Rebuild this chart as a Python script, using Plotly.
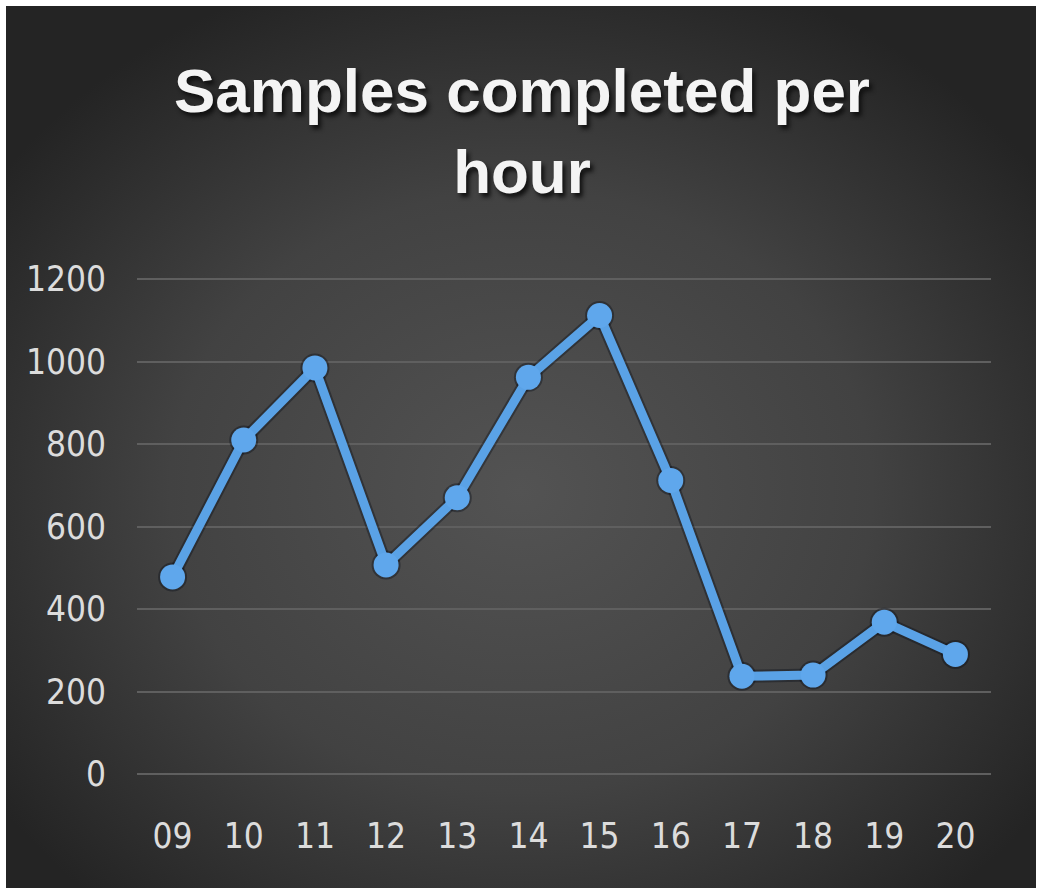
import base64
import plotly.graph_objects as go

hours = ["09", "10", "11", "12", "13", "14", "15", "16", "17", "18", "19", "20"]
samples = [478, 810, 985, 507, 670, 962, 1112, 712, 237, 240, 368, 290]
y_ticks = [0, 200, 400, 600, 800, 1000, 1200]
title_text = "Samples completed per<br>hour"

W, H = 1037, 891
ML, MR, MT, MB = 137, 46, 278, 117
PW, PH = W - ML - MR, H - MT - MB

svg = f'''<svg xmlns="http://www.w3.org/2000/svg" width="{W}" height="{H}" viewBox="0 0 {W} {H}">
<defs><radialGradient id="g" cx="0.5" cy="0.55" r="0.62" fx="0.5" fy="0.55">
<stop offset="0" stop-color="#535353"/><stop offset="0.55" stop-color="#424242"/><stop offset="1" stop-color="#242424"/>
</radialGradient></defs>
<rect x="6" y="6" width="{W-7}" height="{H-9}" fill="url(#g)"/></svg>'''
src = "data:image/svg+xml;base64," + base64.b64encode(svg.encode()).decode()

fig = go.Figure()
# soft shadow under the line
fig.add_trace(go.Scatter(
    x=hours, y=samples, mode="lines+markers",
    line=dict(color="rgba(10,15,25,0.4)", width=13),
    marker=dict(size=29, color="rgba(10,15,25,0.4)"),
    hoverinfo="skip", showlegend=False,
))
fig.add_trace(go.Scatter(
    x=hours, y=samples, mode="lines+markers",
    line=dict(color="#5aa2e6", width=9),
    marker=dict(size=25, color="#5fa7ec"),
    showlegend=False,
))

fig.update_layout(
    width=W, height=H,
    margin=dict(l=ML, r=MR, t=MT, b=MB),
    paper_bgcolor="white",
    plot_bgcolor="rgba(0,0,0,0)",
    images=[dict(source=src, xref="paper", yref="paper",
                 x=-ML / PW, y=1 + MT / PH, sizex=W / PW, sizey=H / PH,
                 xanchor="left", yanchor="top", sizing="stretch", layer="below")],
    title=dict(text=title_text, x=522 / W, xref="container", xanchor="center",
               y=1 - 112 / H, yref="container", yanchor="top",
               font=dict(family="Liberation Sans, Arial", size=62, color="#f4f4f4",
                         weight="bold", shadow="3px 4px 4px #111111")),
    font=dict(family="Liberation Sans Narrow, DejaVu Sans Condensed, Arial Narrow, sans-serif",
              color="#d9d9d9"),
)
fig.update_xaxes(type="category", range=[-0.5, 11.5], showgrid=False, showline=False,
                 zeroline=False, ticks="", ticklabelstandoff=38,
                 tickfont=dict(size=35, color="#dcdcdc"))
fig.update_yaxes(range=[0, 1203], tickvals=y_ticks, showgrid=True,
                 gridcolor="#5f5f5f", gridwidth=1.5, zeroline=True, zerolinecolor="#5f5f5f",
                 zerolinewidth=1.5, showline=False, ticks="", ticklabelstandoff=30,
                 tickfont=dict(size=35, color="#dcdcdc"))

fig.write_html("out.html", config={"displayModeBar": False},
               post_script="document.body.style.margin='0px';")
